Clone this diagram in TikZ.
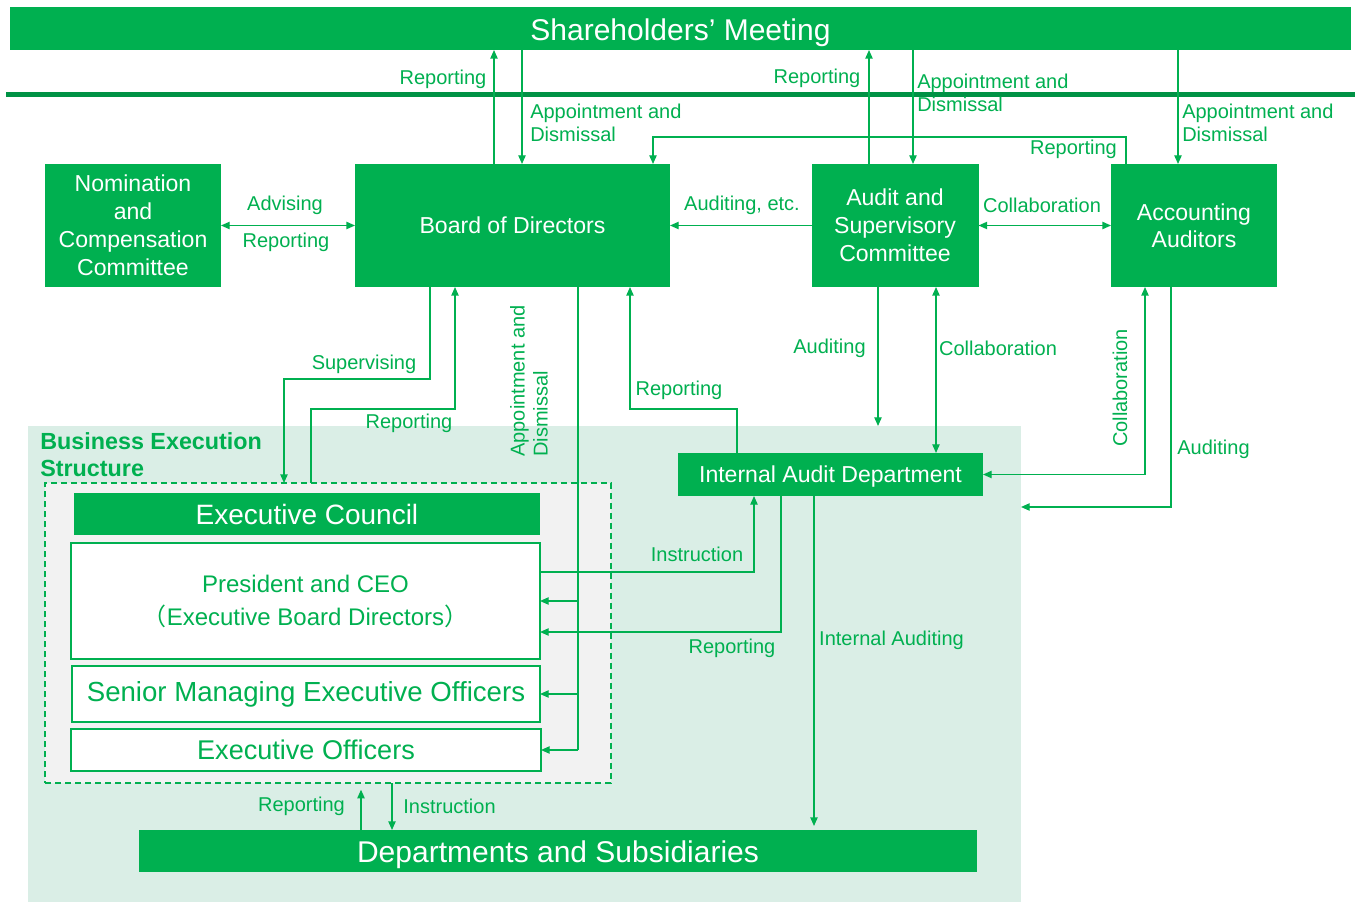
\documentclass[tikz,border=0pt]{standalone}
\usepackage{fontspec}
\setmainfont{Liberation Sans}
\newfontfamily\cjkfont{Noto Sans CJK JP}
\usetikzlibrary{arrows.meta}
\definecolor{gg}{RGB}{0,176,80}
\definecolor{gdark}{RGB}{0,146,69}
\definecolor{garea}{RGB}{218,238,230}
\definecolor{ggray}{RGB}{242,242,242}
\begin{document}
\begin{tikzpicture}[x=0.75pt,y=-0.75pt,
  sz/.style 2 args={minimum width=#1*0.75pt,minimum height=#2*0.75pt},
  gbox/.style={fill=gg,text=white,inner sep=0pt,outer sep=0pt,align=center,font=\fontsize{17.3}{21}\selectfont},
  wbox/.style={fill=white,draw=gg,line width=1.1pt,text=gg,inner sep=0pt,outer sep=0pt,align=center},
  lab/.style={text=gg,inner sep=0pt,align=left,font=\fontsize{15}{17.25}\selectfont},
  conn/.style={draw=gg,line width=1pt},
  arr/.style={conn,-{Triangle[width=5.5pt,length=6.5pt]}},
  arrb/.style={conn,{Triangle[width=5.5pt,length=6.5pt]}-{Triangle[width=5.5pt,length=6.5pt]}}
]
\useasboundingbox (0,0) rectangle (1359,912);
\fill[white] (0,0) rectangle (1359,912);

% business execution area
\node[fill=garea,inner sep=0pt,outer sep=0pt,sz={993}{476}] (area) at (524.5,664) {};
\node[fill=ggray,draw=gg,line width=1.5pt,dash pattern=on 4.5pt off 3pt,inner sep=0pt,outer sep=0pt,sz={566}{300}] (dashbox) at (328,633) {};
\node[anchor=west,text=gg,inner sep=0pt,align=left,font=\bfseries\fontsize{17.5}{20.25}\selectfont] (bes) at (40,455) {Business Execution\\Structure};

% dark rule
\draw[gdark,line width=3.4pt] (6,94.5) -- (1355,94.5);

% main boxes
\node[gbox,sz={1341}{43},font=\fontsize{22.5}{26}\selectfont] (share) at (680.5,28.5) {\raisebox{-3pt}[\height][\depth]{Shareholders’ Meeting}};
\node[gbox,sz={176}{123}] (nom) at (133,225.5) {Nomination\\and\\Compensation\\Committee};
\node[gbox,sz={315}{123}] (board) at (512.5,225.5) {Board of Directors};
\node[gbox,sz={167}{123}] (asc) at (895,225.5) {Audit and\\Supervisory\\Committee};
\node[gbox,sz={166}{123},font=\fontsize{17.3}{20.25}\selectfont] (acc) at (1194,225.5) {Accounting\\Auditors};

\node[gbox,sz={466}{42},font=\fontsize{21}{24}\selectfont] (ec) at (307,514) {Executive Council};
\node[wbox,sz={469}{116},font=\fontsize{18}{24.75}\selectfont] (pres) at (305.5,601) {President and CEO\\{\cjkfont （}Executive Board Directors{\cjkfont ）}};
\node[wbox,sz={468}{56},font=\fontsize{20.7}{24}\selectfont] (smeo) at (306,694) {Senior Managing Executive Officers};
\node[wbox,sz={470}{42},font=\fontsize{20.3}{24}\selectfont] (eo) at (306,750) {Executive Officers};

\node[gbox,sz={305}{43}] (iad) at (830.5,474.5) {\raisebox{-1.5pt}[\height][\depth]{Internal Audit Department}};
\node[gbox,sz={838}{42},font=\fontsize{22.5}{26}\selectfont] (dept) at (558,851) {\raisebox{-3pt}[\height][\depth]{Departments and Subsidiaries}};

% connectors: top
\draw[arr] (board.north -| 494,0) -- (share.south -| 494,0);
\draw[arr] (share.south -| 522,0) -- (board.north -| 522,0);
\draw[arr] (asc.north -| 869,0) -- (share.south -| 869,0);
\draw[arr] (share.south -| 913,0) -- (asc.north -| 913,0);
\draw[arr] (share.south -| 1178,0) -- (acc.north -| 1178,0);
\coordinate (r6) at (653,137);
\draw[arr] (acc.north -| 1126,0) |- (r6) -- (board.north -| r6);

% horizontal connectors
\draw[arrb] (nom.east) -- (board.west);
\draw[arr] (asc.west) -- (board.east);
\draw[arrb] (asc.east) -- (acc.west);

% board <-> executive council
\coordinate (s10) at (284,379);
\draw[arr] (board.south -| 430,0) |- (s10) -- (dashbox.north -| s10);
\coordinate (s11) at (455,409);
\draw[arr] (dashbox.north -| 311,0) |- (s11) -- (board.south -| s11);

% appointment and dismissal of executives
\coordinate (a12) at (578,750);
\draw[conn] (board.south -| a12) -- (a12);
\draw[arr] (pres.east -| a12) -- (pres.east);
\draw[arr] (smeo.east -| a12) -- (smeo.east);
\draw[arr] (a12) -- (eo.east);

% internal audit -> board
\coordinate (s13) at (630,409);
\draw[arr] (iad.north -| 737,0) |- (s13) -- (board.south -| s13);

% audit committee -> internal audit / area
\draw[arr] (asc.south -| 878,0) -- (area.north -| 878,0);
\draw[arrb] (asc.south -| 936,0) -- (iad.north -| 936,0);

% accounting auditors
\draw[arrb] (iad.east) -| (acc.south -| 1145,0);
\draw[arr] (acc.south -| 1171,0) |- (area.east |- 0,507);

% internal audit <-> president
\draw[arr] (pres.east |- 0,572) -| (iad.south -| 754,0);
\draw[arr] (iad.south -| 781,0) |- (pres.east |- 0,632);
\draw[arr,shorten >=3pt] (iad.south -| 814,0) -- (dept.north -| 814,0);

% departments <-> executives
\draw[arr,shorten >=5pt] (dept.north -| 361,0) -- (dashbox.south -| 361,0);
\draw[arr] (dashbox.south -| 392,0) -- (dept.north -| 392,0);

% labels
\node[lab] (l1) at (443,79) {Reporting};
\node[lab,anchor=west] (l2) at (530,122.5) {Appointment and\\Dismissal};
\node[lab] (l3) at (817,78) {Reporting};
\node[lab,anchor=west] (l4) at (917,93) {Appointment and\\Dismissal};
\node[lab,anchor=west] (l5) at (1182,122.5) {Appointment and\\Dismissal};
\node[lab] (l6) at (1073.5,149) {Reporting};
\node[lab] (l7) at (285,205) {Advising};
\node[lab] (l8) at (286,242) {Reporting};
\node[lab] (l9) at (742,205) {Auditing, etc.};
\node[lab] (l10) at (1042,205) {Collaboration};
\node[lab] (l11) at (364,364) {Supervising};
\node[lab] (l12) at (409,423) {Reporting};
\node[lab,rotate=90] (l13) at (529,381) {Appointment and\\Dismissal};
\node[lab] (l14) at (679,390) {Reporting};
\node[lab] (l15) at (829.5,348) {Auditing};
\node[lab] (l16) at (998,348) {Collaboration};
\node[lab,rotate=90] (l17) at (1120,388) {Collaboration};
\node[lab] (l18) at (1213.5,449) {Auditing};
\node[lab] (l19) at (697,554) {Instruction};
\node[lab] (l20) at (732,648) {Reporting};
\node[lab] (l21) at (891.5,640) {Internal Auditing};
\node[lab] (l22) at (301.5,806) {Reporting};
\node[lab] (l23) at (449.5,806) {Instruction};
\end{tikzpicture}
\end{document}
